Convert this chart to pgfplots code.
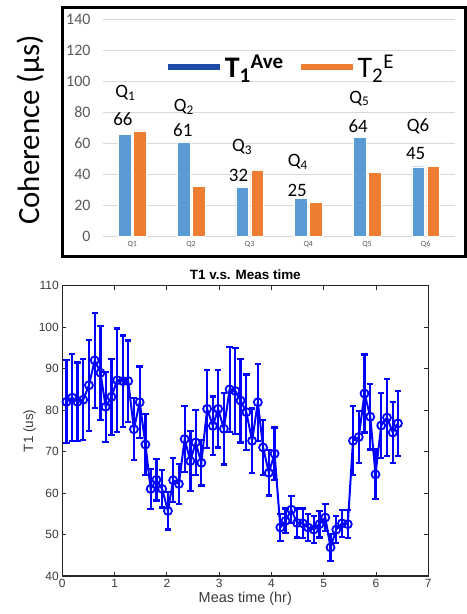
\documentclass[border=0pt]{standalone}
\usepackage{fontspec}
\setmainfont{Carlito}
\newfontfamily\helv{Liberation Sans}
\usepackage{pgfplots}
\usepackage{pgfplotstable}
\pgfplotsset{compat=1.18}

\definecolor{barblue}{HTML}{5B9BD5}
\definecolor{barorange}{HTML}{ED7D31}
\definecolor{legblue}{HTML}{1E4BA5}
\definecolor{gridgrey}{HTML}{D9D9D9}
\definecolor{tickgrey}{HTML}{595959}
\definecolor{mlgrey}{HTML}{3A3A3A}

% coherence per qubit
\pgfplotstableread{
q t1 t2
0 66   68
1 61   32.5
2 32   43
3 24.5 22
4 64   41.5
5 45   45.3
}\coh

% T1 vs measurement time (hr, us, error)
\pgfplotstableread{
t v e
0.08 82.0 10.0
0.19 83.0 10.5
0.29 82.0 9.5
0.40 82.5 9.8
0.51 86.0 11.0
0.62 92.0 11.5
0.73 89.0 11.3
0.83 80.8 8.4
0.94 83.2 9.2
1.05 87.2 12.5
1.16 87.0 11.0
1.26 87.0 9.8
1.37 75.4 7.5
1.48 81.9 8.6
1.59 71.7 7.3
1.69 61.0 4.8
1.80 63.2 5.0
1.91 61.0 4.5
2.02 55.7 4.5
2.12 63.1 5.3
2.23 62.2 4.8
2.34 73.0 8.0
2.45 67.7 7.2
2.55 72.2 7.9
2.66 67.3 5.5
2.77 80.3 9.4
2.88 76.2 7.1
2.98 80.3 9.3
3.09 75.5 8.6
3.20 85.0 10.3
3.31 84.6 10.4
3.41 82.3 10.1
3.52 79.5 9.1
3.63 72.6 7.8
3.74 81.9 9.3
3.84 71.0 6.6
3.95 64.9 5.5
4.06 69.5 6.3
4.17 51.7 3.2
4.27 53.3 3.0
4.38 56.0 3.2
4.49 52.8 3.5
4.60 52.7 3.6
4.70 51.7 3.2
4.81 51.2 3.2
4.92 52.5 3.2
5.03 54.1 3.2
5.13 46.9 3.3
5.24 51.2 3.2
5.35 52.7 3.3
5.46 52.5 3.4
5.56 72.6 8.3
5.67 73.5 6.3
5.78 84.0 9.4
5.89 78.4 7.9
5.99 64.5 6.0
6.10 76.3 7.8
6.21 78.2 9.3
6.32 74.6 7.3
6.42 76.8 7.9
}\tone

\begin{document}
\begin{tikzpicture}[x=1bp,y=1bp]
\useasboundingbox (0,0) rectangle (467,614);

% ---- top: coherence bars
\begin{axis}[
  at={(103bp,377.3bp)}, anchor=south west,
  scale only axis, width=352bp, height=217.7bp,
  xmin=-0.5, xmax=5.5, ymin=0, ymax=140,
  xtick={0,...,5}, xticklabels={Q1,Q2,Q3,Q4,Q5,Q6},
  ytick={0,20,...,140},
  ymajorgrids, grid style={gridgrey, line width=0.8bp},
  axis line style={draw=none}, major tick style={draw=none},
  /pgf/number format/assume math mode=true,
  yticklabel style={font=\fontsize{16}{16}\selectfont, color=tickgrey, anchor=east, xshift=-9bp},
  xticklabel style={font=\fontsize{8}{8}\selectfont, color=tickgrey, yshift=-1bp},
  ylabel={Coherence (µs)},
  ylabel style={font=\fontsize{31}{31}\selectfont, at={(axis description cs:-0.206,0.49)}, anchor=center},
  legend columns=2,
  legend style={at={(0.175,0.781)}, anchor=west, draw=none, fill=none, inner sep=0pt,
    font=\fontsize{30}{30}\selectfont, /tikz/every even column/.append style={column sep=12bp}},
  clip=false,
]
\addplot[ybar, fill=barblue, draw=white, line width=0.4bp, bar width=12.5bp, bar shift=-7.5bp, forget plot] table[x=q, y=t1] {\coh};
\addplot[ybar, fill=barorange, draw=white, line width=0.4bp, bar width=12.5bp, bar shift=7.5bp, forget plot] table[x=q, y=t2] {\coh};
\addlegendimage{legend image code/.code={\draw[legblue, line width=6bp] (0bp,0bp) -- (52bp,0bp);}}
\addlegendentry{\bfseries T\textsubscript{1}\textsuperscript{Ave}}
\addlegendimage{legend image code/.code={\draw[barorange, line width=6bp] (0bp,0bp) -- (52bp,0bp);}}
\addlegendentry{T\textsubscript{2}\textsuperscript{E}}
\begin{scope}[every node/.style={font=\fontsize{19}{19}\selectfont}]
\node at (axis cs:-0.12,92.4) {Q\textsubscript{1}};
\node at (axis cs:-0.16,75.7) {66};
\node at (axis cs:0.88,83.6) {Q\textsubscript{2}};
\node at (axis cs:0.86,68.6) {61};
\node at (axis cs:1.87,57.9) {Q\textsubscript{3}};
\node at (axis cs:1.81,39.7) {32};
\node at (axis cs:2.82,48.2) {Q\textsubscript{4}};
\node at (axis cs:2.81,29.6) {25};
\node at (axis cs:3.87,89) {Q\textsubscript{5}};
\node at (axis cs:3.85,71.2) {64};
\node at (axis cs:4.87,71.2) {Q6};
\node at (axis cs:4.83,53.2) {45};
\end{scope}
\end{axis}
\draw[line width=3bp] (62,357.5) rectangle (465.5,606);

% ---- bottom: T1 vs measurement time
\begin{axis}[
  at={(62.3bp,38bp)}, anchor=south west,
  scale only axis, width=366bp, height=290.3bp,
  xmin=0, xmax=7, ymin=40, ymax=110,
  xtick={0,...,7}, ytick={40,50,...,110},
  tick align=inside, major tick length=4bp,
  axis line style={line width=1.3bp, black!85},
  major tick style={line width=1bp, black!85},
  /pgf/number format/assume math mode=true,
  tick label style={font=\helv\fontsize{12}{12}\selectfont, color=mlgrey},
  title={\helv\bfseries T1 v.s. Meas time},
  title style={font=\fontsize{13.5}{13.5}\selectfont, yshift=-3bp},
  xlabel={\helv Meas time (hr)},
  xlabel style={font=\fontsize{14.5}{14.5}\selectfont, color=mlgrey, yshift=3bp},
  ylabel={\helv T1 (us)},
  ylabel style={font=\fontsize{13.5}{13.5}\selectfont, color=mlgrey, yshift=-4bp},
  error bars/error bar style={line width=2.2bp, blue},
  every error bar/.append style={line width=2.2bp},
]
\addplot[blue, line width=2bp, mark=o, mark size=4bp,
  mark options={line width=1.8bp, solid},
  error bars/.cd, y dir=both, y explicit,
  error bar style={line width=2.2bp, blue},
  error mark options={rotate=90, mark size=3.2bp, line width=2.2bp, blue}]
  table[x=t, y=v, y error=e] {\tone};
\end{axis}
\end{tikzpicture}
\end{document}
